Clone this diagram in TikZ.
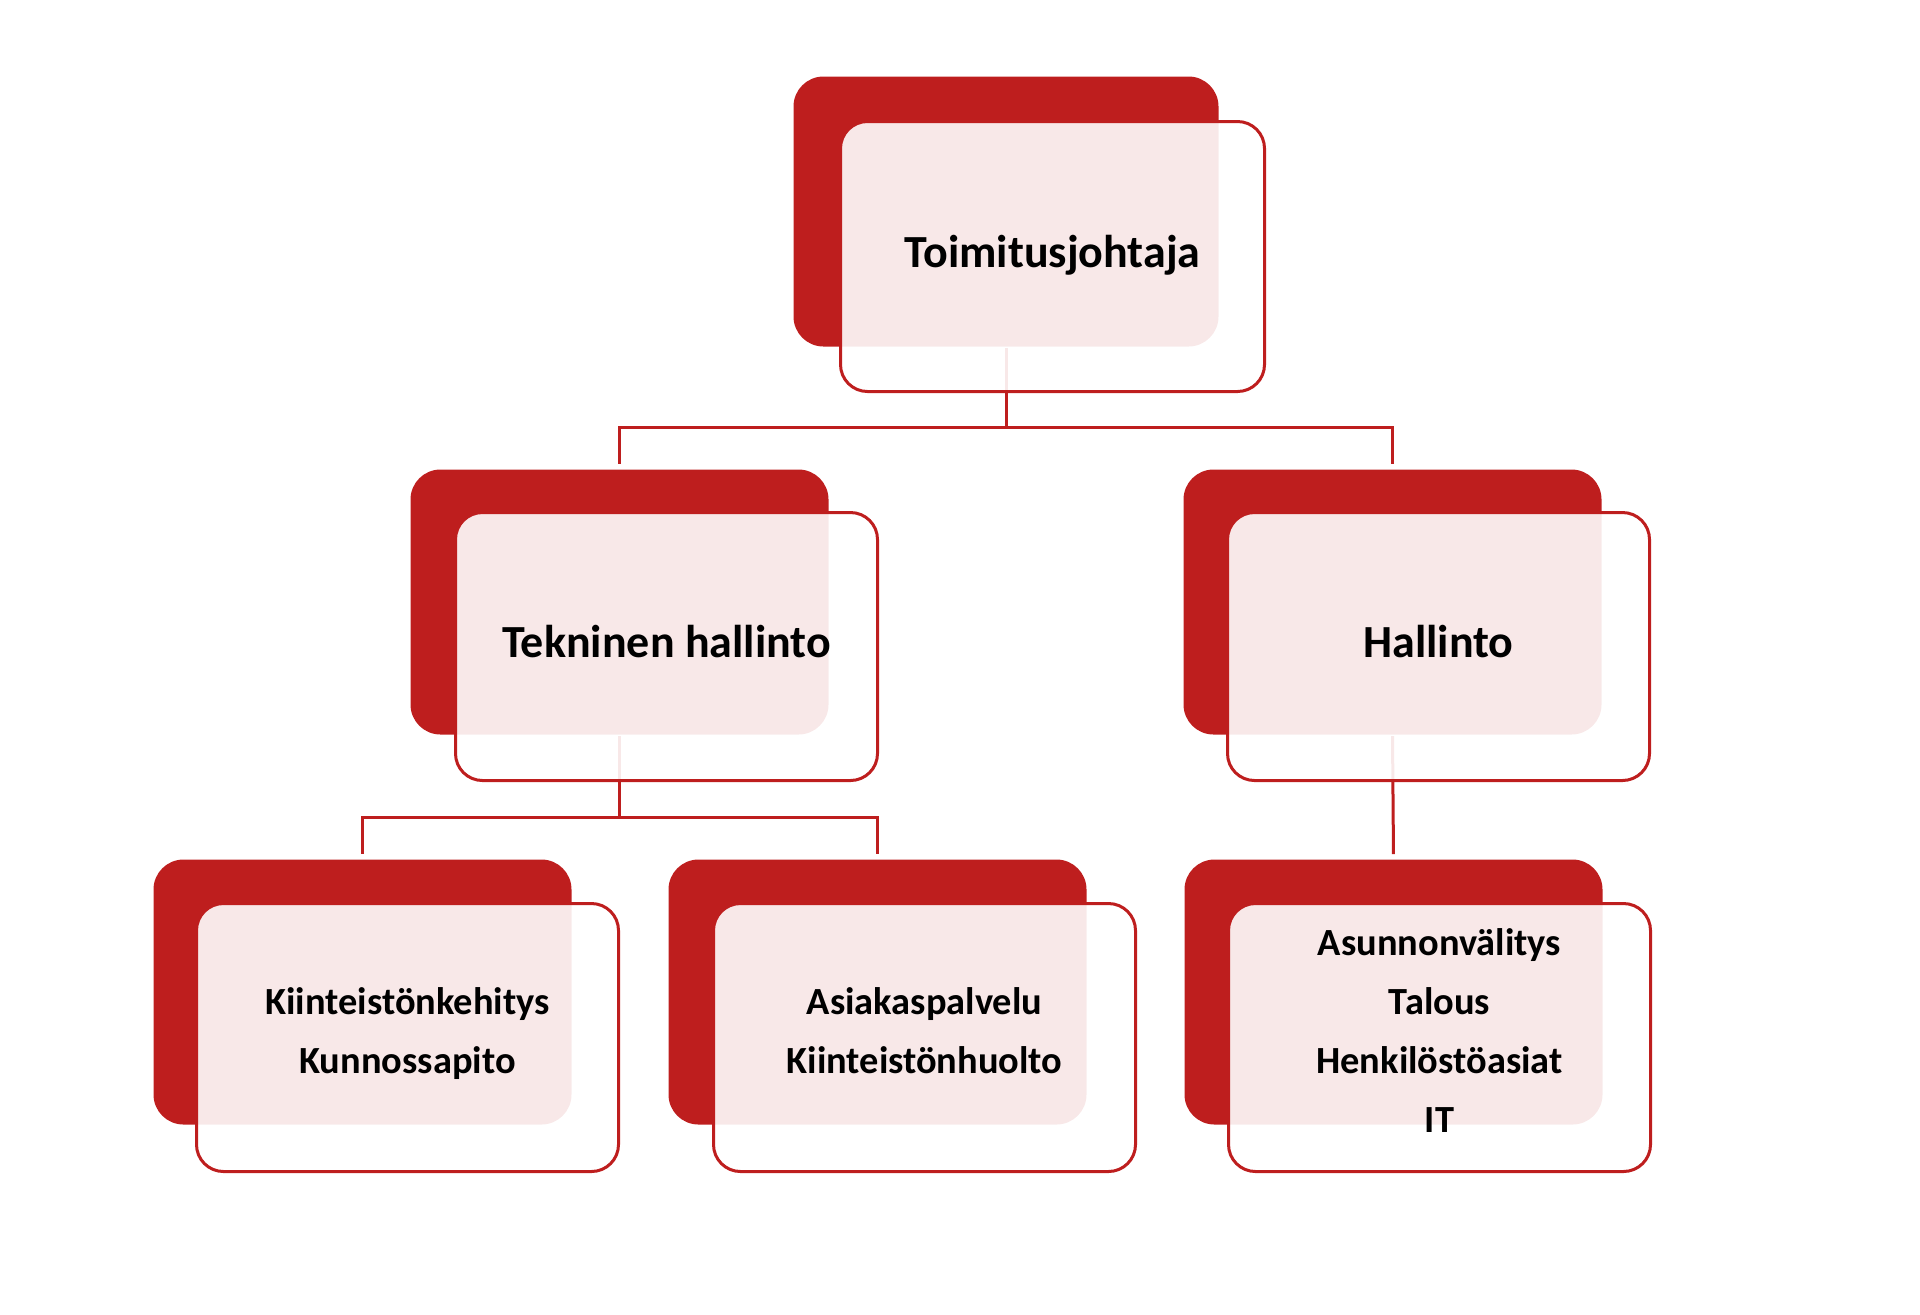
\documentclass[tikz,border=0pt]{standalone}
\usepackage{fontspec}
\setmainfont{Carlito}
\definecolor{orgred}{RGB}{190,30,30}
\tikzset{every picture/.style={line width=1.5pt}}
\tikzset{
  backbox/.style={fill=orgred, rounded corners=15pt, inner sep=0pt, anchor=north west,
    minimum width=209pt, minimum height=132.5pt},
  frontbox/.style={draw=orgred, fill=white, fill opacity=0.9, text opacity=1,
    rounded corners=13.5pt, inner sep=0pt, anchor=north west, align=center,
    minimum width=211pt, minimum height=134pt, text depth=7pt,
    font=\bfseries\fontsize{19.2}{29.5}\selectfont},
  headtext/.style={text depth=5pt, font=\bfseries\fontsize{23}{28}\selectfont},
  link/.style={draw=orgred, shorten >=2pt}
}

\begin{document}
\begin{tikzpicture}[x=0.5pt,y=0.5pt,yscale=-1,xscale=1]
\useasboundingbox (0,0) rectangle (1920,1314);

%Shape: Back boxes
\node [backbox, minimum width=212.5pt, minimum height=135pt] (ceoback) at (792,75) {};
\node [backbox] (techback) at (409,468) {};
\node [backbox] (admback) at (1182,468) {};
\node [backbox] (devback) at (152,858) {};
\node [backbox] (custback) at (667,858) {};
\node [backbox] (miscback) at (1183,858) {};

%Straight Lines: buses
\coordinate (busA) at (0,427);
\coordinate (busB) at (0,817);
\draw [link] (ceoback.south) -- (ceoback.south |- busA) -| (techback.north);
\draw [link] (ceoback.south |- busA) -| (admback.north);
\draw [link] (techback.south) -- (techback.south |- busB) -| (devback.north);
\draw [link] (techback.south |- busB) -| (custback.north);
\draw [link] (admback.south) -- (miscback.north);

% Text Node
\node [frontbox, headtext, minimum width=212pt, minimum height=135pt] (ceo) at (839,120) {Toimitusjohtaja};
% Text Node
\node [frontbox, headtext] (tech) at (454,511) {Tekninen hallinto};
% Text Node
\node [frontbox, headtext] (adm) at (1226,511) {Hallinto};
% Text Node
\node [frontbox] (dev) at (195,902) {Kiinteistönkehitys\\Kunnossapito};
% Text Node
\node [frontbox] (cust) at (712,902) {Asiakaspalvelu\\Kiinteistönhuolto};
% Text Node
\node [frontbox] (misc) at (1227,902) {Asunnonvälitys\\Talous\\Henkilöstöasiat\\IT};

\end{tikzpicture}
\end{document}
